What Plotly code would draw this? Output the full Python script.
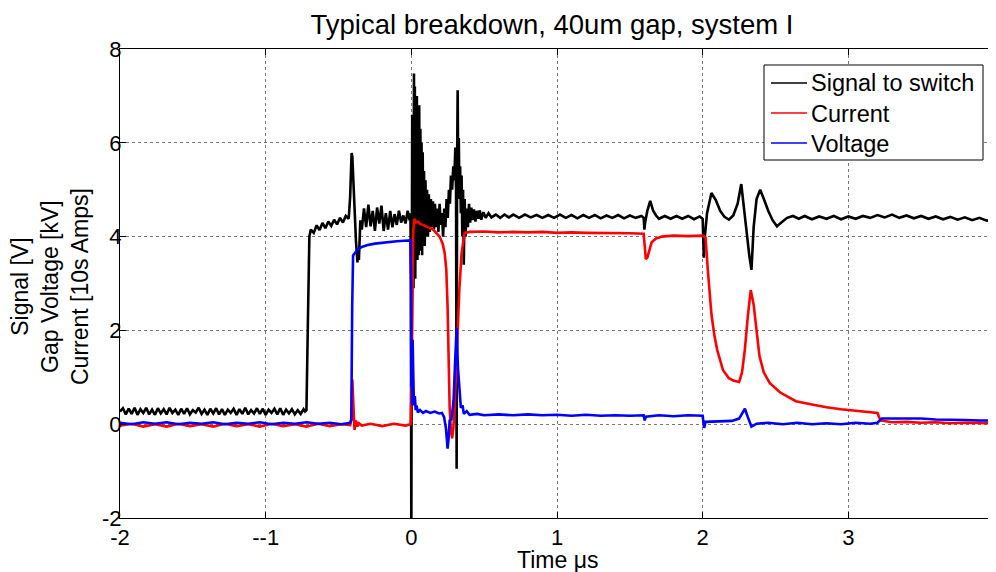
import plotly.graph_objects as go

# ---- Signal to switch (black) ----
sig_t = [-2.00, -1.98, -1.96, -1.94, -1.92, -1.90, -1.88, -1.86, -1.84, -1.82, -1.80, -1.78, -1.76, -1.74,
         -1.72, -1.70, -1.68, -1.66, -1.64, -1.62, -1.60, -1.58, -1.56, -1.54, -1.52, -1.50, -1.48, -1.46,
         -1.44, -1.42, -1.40, -1.38, -1.36, -1.34, -1.32, -1.30, -1.28, -1.26, -1.24, -1.22, -1.20, -1.18,
         -1.16, -1.14, -1.12, -1.10, -1.08, -1.06, -1.04, -1.02, -1.00, -0.98, -0.96, -0.94, -0.92, -0.90,
         -0.88, -0.86, -0.84, -0.82, -0.80, -0.78, -0.76, -0.74, -0.73,
         -0.72, -0.71, -0.70, -0.69, -0.67, -0.65, -0.63, -0.61, -0.59, -0.57, -0.55, -0.53, -0.51, -0.49,
         -0.47, -0.45, -0.43, -0.42, -0.415, -0.41, -0.405, -0.40, -0.39, -0.38, -0.37, -0.365, -0.36,
         -0.355, -0.35, -0.34, -0.325, -0.31, -0.295, -0.28, -0.265, -0.25, -0.235, -0.22, -0.205, -0.19,
         -0.175, -0.16, -0.145, -0.13, -0.115, -0.10, -0.085, -0.07, -0.055, -0.04, -0.025, -0.012, -0.006,
         -0.003, 0.000, 0.003, 0.006, 0.009, 0.012, 0.015, 0.018, 0.021, 0.024, 0.027, 0.030, 0.034, 0.038,
         0.042, 0.046, 0.050, 0.054, 0.058, 0.062, 0.066, 0.070, 0.074, 0.078, 0.082, 0.087, 0.092, 0.097,
         0.102, 0.108, 0.114, 0.120, 0.127, 0.134, 0.141, 0.148, 0.155, 0.162, 0.170, 0.178, 0.186, 0.194,
         0.202, 0.210, 0.218, 0.226, 0.234, 0.242, 0.250, 0.258, 0.265, 0.272, 0.280, 0.288, 0.295, 0.302,
         0.307, 0.311, 0.314, 0.318, 0.322, 0.326, 0.330, 0.335, 0.340, 0.345, 0.350, 0.355, 0.360, 0.366,
         0.372, 0.380, 0.388, 0.396, 0.404, 0.412, 0.420, 0.430, 0.440, 0.450, 0.460, 0.470, 0.480, 0.495,
         0.510, 0.530, 0.55, 0.58, 0.61, 0.64, 0.67, 0.70, 0.74, 0.78, 0.82, 0.86, 0.90, 0.94, 0.98, 1.02,
         1.06, 1.10, 1.14, 1.18, 1.22, 1.26, 1.30, 1.34, 1.38, 1.42, 1.46, 1.50, 1.54, 1.58, 1.595, 1.600,
         1.605, 1.62, 1.64, 1.66, 1.68, 1.70, 1.74, 1.78, 1.82, 1.86, 1.90, 1.94, 1.98, 2.00, 2.008, 2.015,
         2.03, 2.06, 2.09, 2.12, 2.15, 2.18, 2.21, 2.24, 2.265, 2.28, 2.30, 2.32, 2.335, 2.35, 2.37, 2.395,
         2.42, 2.45, 2.48, 2.51, 2.54, 2.58, 2.62, 2.66, 2.70, 2.75, 2.80, 2.85, 2.90, 2.95, 3.00, 3.05,
         3.10, 3.15, 3.20, 3.25, 3.30, 3.35, 3.40, 3.45, 3.50, 3.55, 3.60, 3.65, 3.70, 3.75, 3.80, 3.85,
         3.90, 3.95, 4.00]
sig_v = [0.27, 0.34, 0.21, 0.33, 0.22, 0.35, 0.20, 0.32, 0.24, 0.35, 0.21, 0.31, 0.20, 0.34,
         0.23, 0.32, 0.21, 0.35, 0.24, 0.31, 0.20, 0.33, 0.22, 0.34, 0.21, 0.30, 0.25, 0.35,
         0.22, 0.31, 0.20, 0.33, 0.23, 0.34, 0.21, 0.32, 0.20, 0.31, 0.24, 0.33, 0.20, 0.32,
         0.22, 0.35, 0.21, 0.30, 0.23, 0.34, 0.22, 0.33, 0.20, 0.31, 0.24, 0.33, 0.21, 0.34,
         0.20, 0.31, 0.23, 0.32, 0.21, 0.30, 0.22, 0.32, 0.27,
         0.30, 2.2, 4.0, 4.15, 4.08, 4.24, 4.14, 4.29, 4.18, 4.32, 4.23, 4.36, 4.26, 4.40,
         4.30, 4.44, 4.38, 4.85, 5.6, 5.78, 5.7, 5.3, 4.5, 3.9, 3.45, 3.7, 3.5,
         4.0, 4.35, 4.15, 4.6, 4.2, 4.68, 4.22, 4.55, 4.12, 4.62, 4.28, 4.66, 4.12,
         4.5, 4.15, 4.55, 4.2, 4.48, 4.25, 4.55, 4.3, 4.45, 4.28, 4.55, 4.35, 4.5,
         3.0, -2.5, 2.9, 6.6, 3.2, 6.4, 2.9, 7.48, 3.4, 7.2, 3.1, 6.95, 3.8, 7.0,
         3.5, 6.6, 3.6, 6.8, 3.7, 6.3, 3.8, 6.0, 3.6, 5.8, 3.9, 5.4, 3.8, 5.2,
         4.0, 5.0, 4.0, 4.9, 4.1, 4.8, 4.2, 4.75, 4.15, 4.7, 4.2, 4.6, 4.1, 4.7,
         4.25, 4.5, 4.0, 4.6, 4.2, 4.8, 4.4, 5.0, 4.7, 5.3, 5.0, 5.5, 5.2, 5.9,
         5.0, -0.95, 5.5, 7.12, 5.2, 6.1, 4.8, 5.5, 4.5, 5.3, 4.0, 5.0, 3.4, 4.8,
         4.0, 4.6, 4.2, 4.7, 4.3, 4.62, 4.35, 4.58, 4.32, 4.55, 4.38, 4.56, 4.36, 4.52,
         4.40, 4.5, 4.41, 4.47, 4.40, 4.47, 4.41, 4.47, 4.40, 4.47, 4.41, 4.46, 4.40, 4.46, 4.40, 4.47,
         4.40, 4.46, 4.39, 4.46, 4.40, 4.46, 4.39, 4.45, 4.40, 4.46, 4.39, 4.45, 4.40, 4.44, 4.40, 4.15,
         4.30, 4.55, 4.76, 4.55, 4.45, 4.38, 4.44, 4.38, 4.44, 4.38, 4.44, 4.37, 4.43, 4.38, 3.55, 4.0,
         4.5, 4.93, 4.78, 4.55, 4.42, 4.36, 4.45, 4.7, 5.12, 4.7, 4.1, 3.6, 3.29, 4.2, 4.8, 5.0,
         4.8, 4.55, 4.35, 4.22, 4.3, 4.4, 4.44, 4.38, 4.44, 4.37, 4.43, 4.38, 4.44, 4.37, 4.43, 4.38,
         4.44, 4.40, 4.46, 4.41, 4.47, 4.40, 4.45, 4.39, 4.44, 4.38, 4.43, 4.37, 4.42, 4.36, 4.41, 4.35,
         4.40, 4.34, 4.38]

# ---- Current (red) ----
cur_t = [-2.00, -1.92, -1.84, -1.76, -1.68, -1.60, -1.52, -1.44, -1.36, -1.28, -1.20, -1.12, -1.04, -0.96,
         -0.88, -0.80, -0.72, -0.64, -0.56, -0.48, -0.42, -0.412, -0.405, -0.40, -0.395, -0.39, -0.38,
         -0.37, -0.36, -0.34, -0.28, -0.20, -0.12, -0.04, -0.005, 0.003, 0.008, 0.013, 0.02, 0.03, 0.045,
         0.06, 0.08, 0.10, 0.126, 0.15, 0.194, 0.215, 0.229, 0.24, 0.249, 0.256, 0.263, 0.272, 0.28,
         0.288, 0.297, 0.308, 0.318, 0.33, 0.345, 0.366, 0.40, 0.5, 0.6, 0.7, 0.8, 0.9, 1.0, 1.1, 1.2,
         1.3, 1.4, 1.5, 1.595, 1.603, 1.61, 1.62, 1.635, 1.65, 1.68, 1.72, 1.8, 1.9, 2.0, 2.02, 2.035,
         2.06, 2.08, 2.10, 2.14, 2.18, 2.21, 2.25, 2.27, 2.29, 2.31, 2.33, 2.35, 2.37, 2.39, 2.42, 2.46,
         2.53, 2.64, 2.75, 2.85, 2.95, 3.05, 3.15, 3.20, 3.22, 3.30, 3.40, 3.50, 3.60, 3.70, 3.80, 3.90,
         4.00]
cur_v = [-0.03, 0.01, -0.05, 0.0, -0.05, 0.01, -0.04, 0.0, -0.05, 0.01, -0.04, 0.0, -0.05, 0.01,
         -0.04, 0.0, -0.05, 0.01, -0.04, 0.0, -0.02, 0.1, 0.95, 0.7, 0.2, -0.12, 0.08,
         -0.05, 0.02, -0.03, 0.01, -0.04, 0.01, -0.03, 0.0, 1.2, 3.0, 4.1, 4.38, 4.3, 4.32,
         4.27, 4.25, 4.22, 4.19, 4.15, 4.0, 3.85, 3.65, 3.3, 2.5, 1.2, 0.36, -0.15, -0.3,
         -0.1, 0.36, 1.2, 2.0, 2.9, 3.65, 4.08, 4.1, 4.11, 4.09, 4.1, 4.09, 4.1, 4.08, 4.09, 4.08,
         4.08, 4.07, 4.07, 4.06, 3.8, 3.52, 3.55, 3.75, 3.88, 3.96, 4.0, 4.02, 4.01, 4.02, 3.98, 3.3,
         2.35, 1.9, 1.58, 1.15, 0.98, 0.93, 0.90, 1.1, 1.6, 2.3, 2.86, 2.55, 2.0, 1.45, 1.1, 0.88,
         0.68, 0.49, 0.42, 0.36, 0.32, 0.29, 0.26, 0.24, 0.08, 0.04, 0.05, 0.03, 0.04, 0.02, 0.03, 0.02,
         0.02]

# ---- Voltage (blue) ----
vol_t = [-2.00, -1.92, -1.84, -1.76, -1.68, -1.60, -1.52, -1.44, -1.36, -1.28, -1.20, -1.12, -1.04, -0.96,
         -0.88, -0.80, -0.72, -0.64, -0.56, -0.48, -0.42, -0.412, -0.406, -0.40, -0.39, -0.37, -0.34,
         -0.30, -0.25, -0.20, -0.15, -0.10, -0.05, -0.02, -0.006, -0.002, 0.0, 0.003, 0.006, 0.009, 0.013,
         0.018, 0.024, 0.03, 0.036, 0.045, 0.06, 0.08, 0.10, 0.13, 0.16, 0.19, 0.21, 0.225, 0.238, 0.249,
         0.256, 0.263, 0.275, 0.29, 0.30, 0.311, 0.32, 0.331, 0.34, 0.352, 0.36, 0.38, 0.40, 0.45, 0.5,
         0.6, 0.7, 0.8, 0.9, 1.0, 1.1, 1.2, 1.3, 1.4, 1.5, 1.595, 1.602, 1.61, 1.7, 1.8, 1.9, 2.0, 2.01,
         2.02, 2.1, 2.2, 2.25, 2.29, 2.31, 2.335, 2.37, 2.45, 2.55, 2.65, 2.75, 2.85, 2.95, 3.05, 3.15,
         3.20, 3.23, 3.30, 3.40, 3.50, 3.60, 3.70, 3.80, 3.90, 4.00]
vol_v = [0.03, 0.0, 0.04, 0.01, 0.04, 0.0, 0.03, 0.01, 0.04, 0.0, 0.03, 0.01, 0.04, 0.0,
         0.03, 0.01, 0.04, 0.01, 0.03, 0.0, 0.03, 0.1, 2.5, 3.6, 3.64, 3.72, 3.78,
         3.82, 3.85, 3.87, 3.88, 3.9, 3.91, 3.92, 3.92, 3.0, 0.8, 1.25, 0.4, 1.8, 1.1,
         0.4, 0.6, 0.3, 0.4, 0.25, 0.3, 0.24, 0.28, 0.24, 0.27, 0.23, 0.24, 0.15, -0.1, -0.52,
         -0.3, 0.08, 0.1, 0.5, 1.3, 2.05, 1.2, 0.66, 0.35, 0.4, 0.22, 0.28, 0.2, 0.22, 0.19,
         0.21, 0.19, 0.21, 0.19, 0.2, 0.18, 0.2, 0.18, 0.19, 0.18, 0.19, 0.08, 0.16, 0.19, 0.17, 0.19, 0.18, -0.08,
         0.05, 0.06, 0.07, 0.12, 0.33, 0.15, -0.05, 0.01, 0.03, 0.0, 0.03, 0.0, 0.02, 0.0, 0.03, 0.01,
         0.03, 0.12, 0.12, 0.11, 0.12, 0.1, 0.1, 0.09, 0.08, 0.08]

series_names = ["Signal to switch", "Current", "Voltage"]
series_colors = ["#000000", "#ff0000", "#0000ff"]

x_tickvals = [-2, -1, 0, 1, 2, 3, 4]
x_ticktext = ["-2", "--1", "0", "1", "2", "3", "4"]
y_tickvals = [-2, 0, 2, 4, 6, 8]
y_ticktext = ["-2", "0", "2", "4", "6", "8"]

FONT = "Liberation Sans, Arial, Helvetica, sans-serif"

# The page body adds an 8px offset; the figure is sized so the plot area lands
# at x 120..994 and y 49..518 in the 996x572 window.
W, H = 988, 564
PW, PH = 874.0, 469.0


def px(xw):
    return (xw - 120) / PW


def py(yw):
    return (518 - yw) / PH


fig = go.Figure()
for xs, ys, nm, col in [(sig_t, sig_v, series_names[0], series_colors[0]),
                        (cur_t, cur_v, series_names[1], series_colors[1]),
                        (vol_t, vol_v, series_names[2], series_colors[2])]:
    fig.add_trace(go.Scatter(x=xs, y=ys, mode="lines", name=nm, showlegend=False,
                             line=dict(color=col, width=2.6)))

axis_common = dict(
    showline=True, linecolor="#000000", linewidth=1, mirror="allticks",
    ticks="inside", ticklen=6, tickcolor="#000000", tickwidth=1,
    showgrid=True, gridcolor="#777777", griddash="dot", gridwidth=1,
    zeroline=False, automargin=False,
    tickfont=dict(family=FONT, size=22, color="#000000"),
)

# legend box (MATLAB style) drawn in paper coordinates
shapes = [dict(type="rect", xref="paper", yref="paper", x0=px(764), x1=px(983),
               y0=py(160), y1=py(65), line=dict(color="#000000", width=1),
               fillcolor="white", layer="above")]
row_y = [83, 113, 143]
for yy, col in zip(row_y, series_colors):
    shapes.append(dict(type="line", xref="paper", yref="paper", x0=px(771), x1=px(807),
                       y0=py(yy), y1=py(yy), line=dict(color=col, width=1.5), layer="above"))

fig.update_layout(
    width=W, height=H,
    paper_bgcolor="white", plot_bgcolor="white",
    margin=dict(l=112, r=2, t=41, b=54),
    font=dict(family=FONT, color="#000000"),
    title=dict(text="Typical breakdown, 40um gap, system I", x=px(552), xref="paper",
               xanchor="center", y=1 - 16 / H, yanchor="middle", yref="container",
               font=dict(family=FONT, size=27.5, color="#000000")),
    xaxis=dict(range=[-2, 4], tickvals=x_tickvals, ticktext=x_ticktext,
               ticklabelstandoff=0, ticklabeloverflow="allow", **axis_common),
    yaxis=dict(range=[-2, 8], tickvals=y_tickvals, ticktext=y_ticktext,
               ticklabelstandoff=-7, **axis_common),
    showlegend=False,
    shapes=shapes,
    annotations=[
        dict(text="Time μs", xref="paper", yref="paper", x=0.5, y=py(560),
             xanchor="center", yanchor="middle", showarrow=False,
             font=dict(family=FONT, size=23, color="#000000")),
        dict(text="Signal [V]<br>Gap Voltage [kV]<br>Current [10s Amps]",
             xref="paper", yref="paper", x=px(50), y=py(287),
             xanchor="center", yanchor="middle", textangle=-90, showarrow=False,
             font=dict(family=FONT, size=23, color="#000000")),
        dict(text="<br>".join(series_names), xref="paper", yref="paper",
             x=px(809), y=py(113), xanchor="left", yanchor="middle", align="left",
             showarrow=False, font=dict(family=FONT, size=23.5, color="#000000")),
    ],
)

fig.write_html("out.html")
